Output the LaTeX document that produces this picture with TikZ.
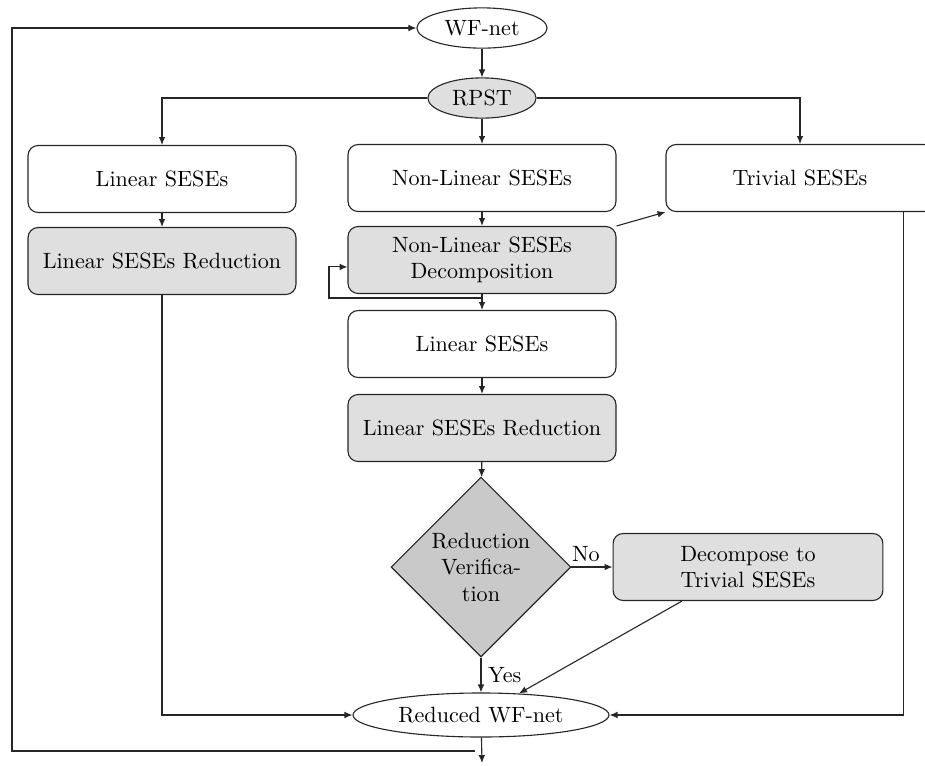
\documentclass[tikz,border=0pt]{standalone}
\usetikzlibrary{shapes.geometric,arrows.meta}
\begin{document}
\begin{tikzpicture}[x=0.0159cm,y=-0.0159cm,
  every node/.style={font=\normalsize},
  arr/.style={draw=black!85,line width=0.5pt,-{Latex[length=3.6pt,width=3pt]}},
  ln/.style={draw=black!85,line width=0.5pt},
  box/.style={draw=black!85,line width=0.5pt,rounded corners=0.16cm,minimum width=4.26cm,minimum height=1.065cm,align=center,inner sep=0pt,fill=white},
  gbox/.style={box,fill=gray!25},
  oval/.style={ellipse,draw=black!85,line width=0.5pt,inner sep=0pt,fill=white},
  decis/.style={diamond,aspect=1,draw=black!85,line width=0.5pt,fill=gray!42,minimum width=2.86cm,minimum height=2.86cm,inner sep=0pt,align=center}]
\useasboundingbox (0,0) rectangle (925,765);
\begin{scope}
\clip (0,0) rectangle (925,765);
\node[oval,minimum width=2.07cm,minimum height=0.64cm] (wf) at (482,28) {WF-net};
\node[oval,fill=gray!25,minimum width=1.72cm,minimum height=0.64cm] (rpst) at (482,98) {RPST};
\node[box] (lin1) at (162,179) {Linear SESEs};
\node[box] (nlin) at (482,178) {Non-Linear SESEs};
\node[box] (triv) at (800,178) {Trivial SESEs};
\node[gbox] (red1) at (162,261) {Linear SESEs Reduction};
\node[gbox] (dec) at (482,260) {Non-Linear SESEs\\Decomposition};
\node[box] (lin2) at (482,344) {Linear SESEs};
\node[gbox] (red2) at (482,428) {Linear SESEs Reduction};
\node[decis] (dia) at (481,567) {Reduction\\Verifica-\\tion};
\node[gbox,minimum width=4.29cm] (dt) at (748,567) {Decompose to\\Trivial SESEs};
\node[oval,minimum width=4.07cm,minimum height=0.70cm] (rwf) at (481,715) {Reduced WF-net};

\coordinate (lp) at (482,298);
\coordinate (lpc) at (329,298);
\coordinate (fb) at (475,751);
\coordinate (fbl) at (12,751);
\coordinate (out) at (482,763);

\draw[arr] (wf) -- (rpst);
\draw[arr] (rpst.west) -| (lin1.north);
\draw[arr] (rpst.east) -| (triv.north);
\draw[arr] (rpst) -- (nlin);
\draw[arr] (nlin) -- (dec);
\draw[arr] (dec) -- (lin2);
\draw[arr] (lp) -- (lpc) |- ([yshift=-0.11cm]dec.west);
\draw[arr] (dec.north east) -- (triv.south west);
\draw[arr] (lin1) -- (red1);
\draw[arr] (red1.south) |- (rwf.west);
\draw[arr] (lin2) -- (red2);
\draw[arr] (red2) -- (dia);
\draw[arr] (dia.east) -- node[above,pos=0.35,inner sep=2pt] {No} (dt.west);
\draw[arr] (dia.south) -- node[right,inner sep=3pt] {Yes} (rwf.north);
\draw[arr] ([xshift=-1.05cm]dt.south) -- (rwf);
\draw[arr] ([xshift=1.64cm]triv.south) |- (rwf.east);
\draw[arr] (rwf) -- (out);
\draw[arr] (fb) -- (fbl) |- (wf.west);
\end{scope}
\end{tikzpicture}
\end{document}
